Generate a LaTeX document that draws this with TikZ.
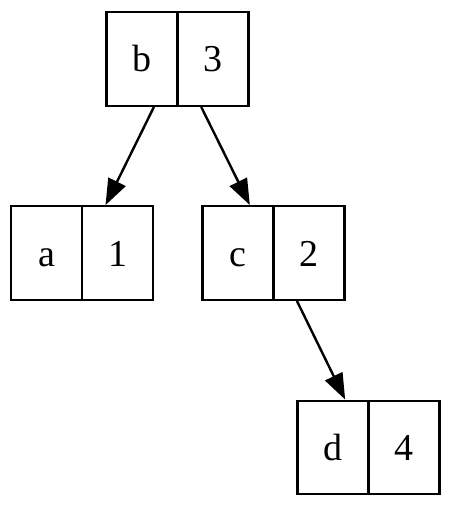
\documentclass[tikz,border=0pt]{standalone}
\usepackage{fontspec}
\setmainfont{Liberation Serif}
\usetikzlibrary{arrows.meta}
\begin{document}
\begin{tikzpicture}[x=1pt,y=-1pt,
  rec/.style={draw, line width=2.4pt, rectangle, minimum width=142pt, minimum height=93.5pt, inner sep=0pt},
  lab/.style={inner sep=0pt, anchor=base, font=\fontsize{38}{42}\selectfont},
  edge/.style={line width=2.4pt, -{Triangle[length=26pt, width=19pt]}}]
\useasboundingbox (0,0) rectangle (452,508);
\newcommand{\recnode}[5]{%
  \node[rec] (#1) at (#2,#3) {};
  \draw[line width=2.4pt] (#1.north) -- (#1.south);
  \node[lab] (#1l) at ([xshift=-35.5pt,yshift=-13pt]#1.center) {#4};
  \node[lab] (#1r) at ([xshift=35.5pt,yshift=-13pt]#1.center) {#5};
}
\recnode{b}{177.5}{59}{b}{3}
\recnode{a}{82}{253}{a}{1}
\recnode{c}{273.5}{253}{c}{2}
\recnode{d}{368.5}{447.5}{d}{4}
\draw[edge] (b) -- (a);
\draw[edge] (b) -- (c);
\draw[edge] (c) -- (d);
\end{tikzpicture}
\end{document}
